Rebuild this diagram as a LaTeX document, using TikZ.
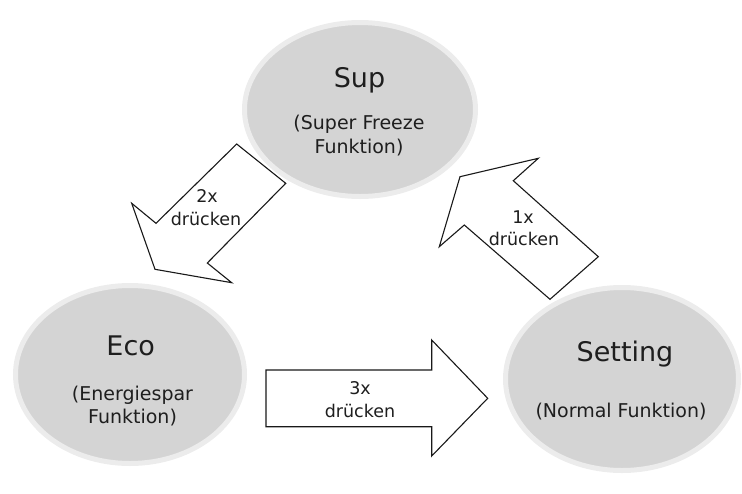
\documentclass[tikz,border=0pt]{standalone}
\usepackage{fontspec}
\setmainfont{DejaVu Sans}
\usetikzlibrary{shapes.geometric}
\definecolor{ringc}{HTML}{ECECEC}
\definecolor{fillc}{HTML}{D4D4D4}
\definecolor{txtc}{HTML}{1E1E1E}
\begin{document}
\begin{tikzpicture}[x=1pt,y=-1pt,
  ell/.style={ellipse, draw=ringc, line width=5pt, fill=fillc, inner sep=0pt},
  bigtxt/.style={anchor=base, inner sep=0pt, text=txtc, font=\fontsize{27}{32}\selectfont},
  subtxt/.style={anchor=base, inner sep=0pt, text=txtc, font=\fontsize{19}{23}\selectfont},
  arrtxt/.style={anchor=base, inner sep=0pt, text=txtc, font=\fontsize{17.5}{21}\selectfont},
  blockarrow/.style={draw=black!90, line width=1.1pt, fill=white, line join=miter}]
\useasboundingbox (0,0) rectangle (742,493);
% ellipses
\node[ell, minimum width=231pt, minimum height=174pt] (sup) at (360,109.5) {};
\node[ell, minimum width=229pt, minimum height=178pt] (eco) at (130,374.5) {};
\node[ell, minimum width=233pt, minimum height=183pt] (set) at (622,379) {};
% texts in ellipses
\node[bigtxt] (supT) at (359.5,87) {Sup};
\node[subtxt] (supA) at (359,129) {(Super Freeze};
\node[subtxt] (supB) at (359,153) {Funktion)};
\node[bigtxt] (ecoT) at (130.7,355) {Eco};
\node[subtxt] (ecoA) at (132.5,400) {(Energiespar};
\node[subtxt] (ecoB) at (132.5,423) {Funktion)};
\node[bigtxt] (setT) at (625,361) {Setting};
\node[subtxt] (setA) at (621,417) {(Normal Funktion)};
% block arrows
\draw[blockarrow] (236.7,144) -- (285.7,183.3) -- (207.3,263) -- (231.7,282.7)
  -- (155,269.3) -- (131.7,203.3) -- (156,223.3) -- cycle;
\draw[blockarrow] (460,176.7) -- (538.3,158.3) -- (513.3,180.7) -- (598.3,256.7)
  -- (550,299.3) -- (464.3,225) -- (439.3,246.7) -- cycle;
\draw[blockarrow] (266,370) -- (431.7,370) -- (431.7,340) -- (487.7,398.3)
  -- (431.7,456) -- (431.7,426.7) -- (266,426.7) -- cycle;
% arrow labels
\node[arrtxt] (a2x) at (207,202.7) {2x};
\node[arrtxt] (a2d) at (206,225) {drücken};
\node[arrtxt] (a1x) at (523,223) {1x};
\node[arrtxt] (a1d) at (524,245) {drücken};
\node[arrtxt] (a3x) at (360,394) {3x};
\node[arrtxt] (a3d) at (360,417) {drücken};
\end{tikzpicture}
\end{document}
